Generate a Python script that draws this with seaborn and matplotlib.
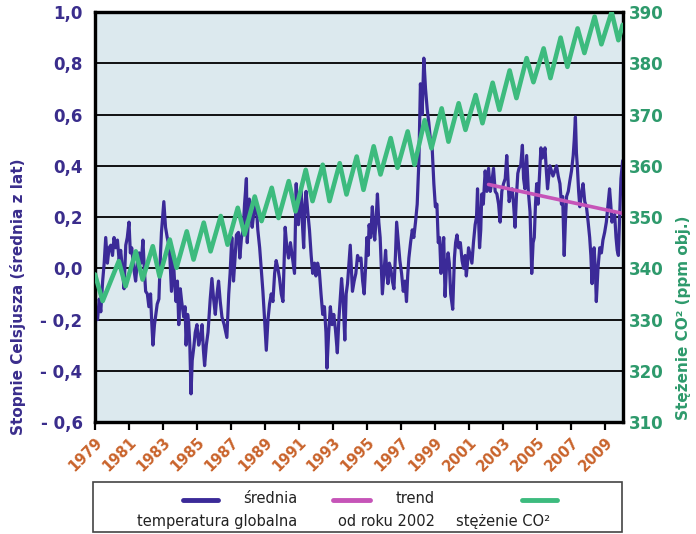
import matplotlib
matplotlib.use("Agg")
import matplotlib.pyplot as plt
import seaborn as sns
from matplotlib.lines import Line2D
from matplotlib.patches import Rectangle

# ---------------- data ----------------
temp_time = [
    1979.00, 1979.08, 1979.15, 1979.25, 1979.34, 1979.45, 1979.54, 1979.63, 1979.73, 1979.83, 1979.93,
    1980.03, 1980.12, 1980.22, 1980.32, 1980.42, 1980.51, 1980.61, 1980.71, 1980.81, 1980.90,
    1981.00, 1981.08, 1981.16, 1981.28, 1981.39, 1981.50, 1981.60, 1981.72, 1981.82, 1981.90, 1981.98,
    1982.08, 1982.17, 1982.27, 1982.33, 1982.41, 1982.50, 1982.56, 1982.66, 1982.76, 1982.85, 1982.91,
    1983.05, 1983.15, 1983.25, 1983.38, 1983.50, 1983.60, 1983.68, 1983.77, 1983.85, 1983.93,
    1984.02, 1984.10, 1984.22, 1984.30, 1984.36, 1984.45, 1984.51, 1984.58, 1984.65, 1984.72, 1984.81, 1984.90,
    1985.00, 1985.10, 1985.20, 1985.30, 1985.38, 1985.45, 1985.55, 1985.65, 1985.78, 1985.88, 1985.98,
    1986.08, 1986.18, 1986.27, 1986.37, 1986.47, 1986.60, 1986.76, 1986.87, 1986.95,
    1987.05, 1987.15, 1987.25, 1987.32, 1987.44, 1987.52, 1987.62, 1987.72, 1987.80, 1987.91, 1987.96,
    1988.08, 1988.16, 1988.25, 1988.35, 1988.49, 1988.58, 1988.69, 1988.78, 1988.88, 1988.98,
    1989.08, 1989.18, 1989.27, 1989.37, 1989.47, 1989.57, 1989.66, 1989.76, 1989.86, 1989.96,
    1990.06, 1990.12, 1990.19, 1990.29, 1990.39, 1990.50, 1990.60, 1990.74, 1990.84, 1990.90, 1990.97,
    1991.05, 1991.13, 1991.20, 1991.28, 1991.35, 1991.42, 1991.52, 1991.62, 1991.72, 1991.81, 1991.92,
    1992.00, 1992.10, 1992.20, 1992.30, 1992.40, 1992.50, 1992.59, 1992.65, 1992.75, 1992.85, 1992.95,
    1993.05, 1993.15, 1993.26, 1993.35, 1993.45, 1993.51, 1993.60, 1993.70, 1993.78, 1993.86,
    1994.02, 1994.15, 1994.25, 1994.35, 1994.45, 1994.55, 1994.65, 1994.75, 1994.84, 1994.92,
    1995.00, 1995.07, 1995.13, 1995.22, 1995.32, 1995.40, 1995.46, 1995.55, 1995.62, 1995.70, 1995.78, 1995.85, 1995.91,
    1996.00, 1996.10, 1996.17, 1996.24, 1996.32, 1996.40, 1996.50, 1996.59, 1996.68, 1996.75, 1996.85, 1996.94,
    1997.04, 1997.14, 1997.24, 1997.33, 1997.40, 1997.47, 1997.57, 1997.67, 1997.76, 1997.86, 1997.96,
    1998.06, 1998.15, 1998.25, 1998.35, 1998.45, 1998.55, 1998.64, 1998.74, 1998.84, 1998.94,
    1999.03, 1999.12, 1999.20, 1999.28, 1999.36, 1999.44, 1999.52, 1999.60, 1999.68, 1999.78, 1999.85, 1999.93,
    2000.05, 2000.15, 2000.22, 2000.30, 2000.40, 2000.50, 2000.60, 2000.69, 2000.78, 2000.85, 2000.92, 2000.98,
    2001.08, 2001.18, 2001.27, 2001.37, 2001.45, 2001.51, 2001.58, 2001.63, 2001.70, 2001.76, 2001.85, 2001.96,
    2002.06, 2002.16, 2002.26, 2002.36, 2002.45, 2002.55, 2002.65, 2002.75, 2002.84, 2002.94,
    2003.04, 2003.14, 2003.23, 2003.30, 2003.37, 2003.47, 2003.55, 2003.63, 2003.72, 2003.80, 2003.88, 2003.95,
    2004.05, 2004.15, 2004.22, 2004.30, 2004.40, 2004.50, 2004.60, 2004.70, 2004.78, 2004.85, 2004.92, 2004.99,
    2005.07, 2005.15, 2005.24, 2005.32, 2005.40, 2005.48, 2005.56, 2005.63, 2005.70, 2005.77, 2005.86, 2005.95,
    2006.06, 2006.16, 2006.26, 2006.36, 2006.45, 2006.52, 2006.61, 2006.68, 2006.75, 2006.85, 2006.94,
    2007.04, 2007.14, 2007.20, 2007.27, 2007.33, 2007.39, 2007.46, 2007.53, 2007.62, 2007.72, 2007.82, 2007.92,
    2008.02, 2008.11, 2008.18, 2008.25, 2008.31, 2008.37, 2008.44, 2008.50, 2008.60, 2008.70, 2008.80, 2008.89, 2008.99,
    2009.09, 2009.18, 2009.28, 2009.35, 2009.42, 2009.50, 2009.58, 2009.66, 2009.73, 2009.80, 2009.87, 2009.95,
    2010.05,
]
temp_value = [
    -0.23, -0.17, -0.20, -0.12, -0.17, -0.05, 0.02, 0.12, 0.02, 0.08, 0.09,
    0.05, 0.12, 0.08, 0.11, 0.03, 0.07, 0.00, -0.08, 0.09, 0.12,
    0.18, 0.06, 0.08, 0.00, -0.05, 0.03, 0.06, 0.02, 0.11, 0.00, -0.09,
    -0.10, -0.15, -0.10, -0.20, -0.30, -0.22, -0.19, -0.14, -0.12, 0.05, 0.14,
    0.26, 0.16, 0.12, 0.08, -0.09, 0.05, -0.05, -0.13, -0.05, -0.22,
    -0.08, -0.13, -0.19, -0.15, -0.30, -0.18, -0.21, -0.30, -0.49, -0.36, -0.31, -0.25,
    -0.22, -0.30, -0.27, -0.22, -0.32, -0.38, -0.30, -0.25, -0.12, -0.04, -0.12,
    -0.18, -0.10, -0.05, -0.13, -0.19, -0.22, -0.27, -0.10, -0.02,
    0.12, -0.05, 0.05, 0.13, 0.14, 0.04, 0.12, 0.15, 0.25, 0.35, 0.10,
    0.27, 0.21, 0.16, 0.22, 0.25, 0.15, 0.08, 0.00, -0.09, -0.20,
    -0.32, -0.20, -0.14, -0.10, -0.13, -0.02, 0.03, 0.00, -0.04, -0.10,
    -0.13, 0.00, 0.16, 0.08, 0.04, 0.10, 0.05, -0.02, 0.33, 0.20, 0.17,
    0.26, 0.30, 0.18, 0.08, 0.25, 0.30, 0.22, 0.15, 0.05, -0.02, 0.02,
    -0.03, 0.02, -0.01, -0.10, -0.18, -0.15, -0.25, -0.39, -0.25, -0.15, -0.22,
    -0.18, -0.24, -0.33, -0.20, -0.10, -0.04, -0.12, -0.28, -0.10, -0.06,
    0.09, -0.09, -0.05, -0.02, 0.05, 0.03, 0.04, -0.05, -0.10, 0.00,
    0.12, 0.05, 0.17, 0.12, 0.24, 0.15, 0.11, 0.20, 0.29, 0.18, 0.12, 0.00, -0.10,
    -0.02, 0.07, -0.02, -0.06, 0.02, 0.00, -0.05, -0.08, 0.05, 0.18, 0.10, 0.03,
    -0.02, -0.09, -0.05, -0.13, -0.03, 0.04, 0.10, 0.15, 0.12, 0.18, 0.25,
    0.42, 0.72, 0.60, 0.82, 0.70, 0.62, 0.57, 0.50, 0.47, 0.33,
    0.24, 0.25, 0.10, 0.12, -0.02, 0.06, 0.12, -0.11, 0.00, 0.06, 0.02, -0.10,
    -0.16, 0.04, 0.10, 0.13, 0.08, 0.10, 0.03, 0.00, 0.05, -0.03, 0.02, 0.08,
    0.05, 0.02, 0.10, 0.17, 0.20, 0.31, 0.18, 0.08, 0.15, 0.29, 0.25, 0.38,
    0.30, 0.39, 0.30, 0.34, 0.39, 0.30, 0.29, 0.25, 0.18, 0.30,
    0.33, 0.35, 0.44, 0.35, 0.26, 0.30, 0.31, 0.25, 0.16, 0.28, 0.37, 0.39,
    0.40, 0.48, 0.35, 0.31, 0.44, 0.30, 0.22, -0.02, 0.10, 0.12, 0.25, 0.33,
    0.25, 0.35, 0.47, 0.43, 0.44, 0.47, 0.38, 0.31, 0.36, 0.40, 0.38, 0.36,
    0.38, 0.40, 0.36, 0.33, 0.25, 0.28, 0.05, 0.18, 0.28, 0.30, 0.34,
    0.38, 0.44, 0.50, 0.59, 0.45, 0.39, 0.30, 0.24, 0.29, 0.33, 0.26, 0.24,
    0.18, 0.12, 0.05, -0.06, 0.03, 0.08, 0.00, -0.13, 0.00, 0.08, 0.06, 0.11, 0.14,
    0.18, 0.24, 0.31, 0.25, 0.18, 0.20, 0.21, 0.12, 0.07, 0.05, 0.20, 0.35,
    0.42,
]

co2_time = [
    1979.00, 1979.45,
    1980.40, 1980.80, 1981.40, 1981.80, 1982.40, 1982.80, 1983.40, 1983.80,
    1984.40, 1984.80, 1985.40, 1985.80, 1986.40, 1986.80, 1987.40, 1987.80,
    1988.40, 1988.80, 1989.40, 1989.80, 1990.40, 1990.80, 1991.40, 1991.80,
    1992.40, 1992.80, 1993.40, 1993.80, 1994.40, 1994.80, 1995.40, 1995.80,
    1996.40, 1996.80, 1997.40, 1997.80, 1998.40, 1998.80, 1999.40, 1999.80,
    2000.40, 2000.80, 2001.40, 2001.80, 2002.40, 2002.80, 2003.40, 2003.80,
    2004.40, 2004.80, 2005.40, 2005.80, 2006.40, 2006.80, 2007.40, 2007.80,
    2008.40, 2008.80, 2009.40, 2009.80, 2010.05,
]
co2_ppm = [
    338.8, 333.6,
    341.4, 336.5, 343.3, 337.8, 344.3, 338.4, 345.6, 340.1,
    347.2, 341.7, 348.9, 343.3, 350.2, 344.6, 351.8, 346.6,
    354.0, 349.2, 355.7, 349.8, 357.0, 351.1, 359.2, 353.1,
    360.2, 353.1, 360.5, 354.4, 361.8, 355.3, 363.8, 358.3,
    365.4, 359.6, 366.7, 360.2, 368.9, 363.4, 371.2, 364.7,
    372.2, 367.0, 373.8, 368.3, 376.2, 370.9, 378.6, 373.2,
    381.0, 376.3, 382.9, 377.1, 385.0, 379.3, 386.8, 382.0,
    389.1, 383.7, 390.0, 384.5, 387.5,
]

trend_time = [2002.16, 2010.05]
trend_value = [0.327, 0.214]

year_ticks = [1979, 1981, 1983, 1985, 1987, 1989, 1991, 1993, 1995, 1997,
              1999, 2001, 2003, 2005, 2007, 2009]
temp_ticks = [-0.6, -0.4, -0.2, 0.0, 0.2, 0.4, 0.6, 0.8, 1.0]
temp_tick_labels = ["- 0,6", "- 0,4", "- 0,2", "0,0", "0,2", "0,4", "0,6", "0,8", "1,0"]
co2_ticks = [310, 320, 330, 340, 350, 360, 370, 380, 390]

# ---------------- style ----------------
sns.set_theme(style="white")
plt.rcParams['font.family'] = ['DejaVu Sans']

BLUE = "#3b2a98"
NAVY_TXT = "#3a2d8c"
GREEN = "#3dbb7e"
GREEN_TXT = "#2e9a6c"
MAGENTA = "#c654b8"
ORANGE = "#c9632b"
BG = "#dce9ee"

fig = plt.figure(figsize=(6.96, 5.34), dpi=100)
fig.patch.set_facecolor("white")
ax = fig.add_axes([0.1365, 0.2097, 0.7586, 0.7678])
ax.set_facecolor(BG)
ax2 = ax.twinx()
ax2.patch.set_visible(False)

sns.lineplot(x=temp_time, y=temp_value, ax=ax, color=BLUE, linewidth=2.3,
             estimator=None, sort=False, zorder=3)
sns.lineplot(x=trend_time, y=trend_value, ax=ax, color=MAGENTA, linewidth=2.6,
             estimator=None, sort=False, zorder=4)
sns.lineplot(x=co2_time, y=co2_ppm, ax=ax2, color=GREEN, linewidth=3.3,
             estimator=None, sort=False, zorder=3)

ax.set_xlim(1979.0, 2010.07)
ax.set_ylim(-0.6, 1.0)
ax2.set_ylim(310, 390)

ax.set_yticks(temp_ticks)
ax.set_yticklabels(temp_tick_labels, color=NAVY_TXT, fontweight="bold", fontsize=12)
ax.tick_params(axis="y", length=0, pad=9)
ax.yaxis.grid(True, color="black", linewidth=1.3)
ax.xaxis.grid(False)
ax.set_axisbelow(True)

ax2.set_yticks(co2_ticks)
ax2.set_yticklabels([str(v) for v in co2_ticks], color=GREEN_TXT, fontweight="bold", fontsize=12)
ax2.tick_params(axis="y", length=0, pad=4)
ax2.grid(False)

ax.set_xticks(year_ticks)
ax.set_xticklabels([str(y) for y in year_ticks], color=ORANGE, fontweight="bold",
                   fontsize=10.5, rotation=45, ha="right", va="top", rotation_mode="anchor")
ax.tick_params(axis="x", bottom=True, length=6, width=1.6, color="black", direction="out", pad=3)

ax.set_xlabel("")
ax.set_ylabel("")
ax2.set_ylabel("")

for a in (ax, ax2):
    for s in a.spines.values():
        s.set_visible(True)
        s.set_color("black")
        s.set_linewidth(2.3)

# axis titles
fig.text(0.026, 0.445, "Stopnie Celsjusza (średnia z lat)", rotation=90, ha="center", va="center",
         color=NAVY_TXT, fontweight="bold", fontsize=11)
fig.text(0.982, 0.405, "Stężenie CO² (ppm obj.)", rotation=90, ha="center", va="center",
         color=GREEN_TXT, fontweight="bold", fontsize=11)

# ---------------- legend (drawn in figure coords) ----------------
fig.patches.append(Rectangle((0.1336, 0.004), 0.760, 0.094, transform=fig.transFigure,
                             facecolor="white", edgecolor="#444444", linewidth=1.2))
leg_y_line = 0.063
leg_y_top = 0.066
leg_y_bot = 0.024
TXT = "#222222"
fig.lines.append(Line2D([0.263, 0.313], [leg_y_line, leg_y_line], transform=fig.transFigure,
                        color=BLUE, linewidth=3.5))
fig.text(0.427, leg_y_top, "średnia", ha="right", va="center", color=TXT, fontsize=10.5)
fig.text(0.427, leg_y_bot, "temperatura globalna", ha="right", va="center", color=TXT, fontsize=10.5)

fig.lines.append(Line2D([0.478, 0.532], [leg_y_line, leg_y_line], transform=fig.transFigure,
                        color=MAGENTA, linewidth=3.5))
fig.text(0.625, leg_y_top, "trend", ha="right", va="center", color=TXT, fontsize=10.5)
fig.text(0.625, leg_y_bot, "od roku 2002", ha="right", va="center", color=TXT, fontsize=10.5)

fig.lines.append(Line2D([0.750, 0.800], [leg_y_line, leg_y_line], transform=fig.transFigure,
                        color=GREEN, linewidth=3.5))
fig.text(0.790, leg_y_bot, "stężenie CO²", ha="right", va="center", color=TXT, fontsize=10.5)

fig.savefig("out.png", dpi=100, facecolor="white")
